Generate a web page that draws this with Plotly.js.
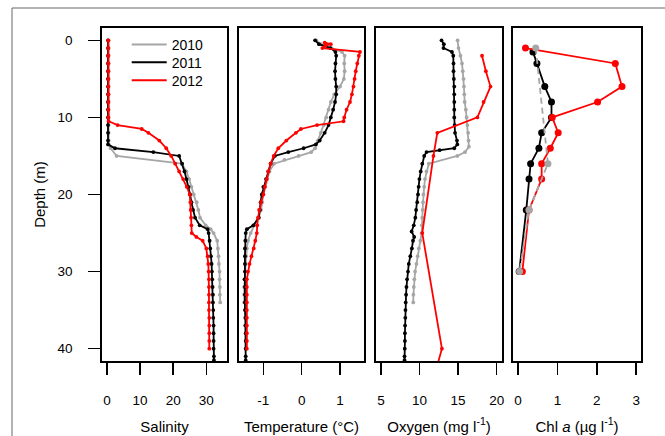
<!DOCTYPE html>
<html>
<head>
<meta charset="utf-8">
<script src="https://cdn.plot.ly/plotly-3.0.1.min.js"></script>
<style>html,body{margin:0;padding:0;background:#fff;}#chart{width:665px;height:436px;}</style>
</head>
<body>
<div id="chart"></div>
<script>
// ---------- DATA ----------
var years = ['2010', '2011', '2012'];
var colors = {'2010': '#a6a6a6', '2011': '#000000', '2012': '#ff0000'};

// Salinity profiles
var salDepth2010 = [0,1,2,3,4,5,6,7,8,9,10,11,12,13,13.5,14,15,16,17,18,19,20,21,22,23,24,24.5,25,26,27,28,29,30,31,32,33,34];
var sal2010 = [0.5,0.5,0.5,0.5,0.5,0.5,0.5,0.5,0.5,0.5,0.5,0.5,0.5,0.5,0.5,1.1,2.9,22.6,24.0,24.8,25.5,26.2,27.1,27.6,28.1,29.8,31.3,32.2,33.3,33.5,33.7,33.8,34.0,34.0,34.1,34.1,34.2];
var salDepth2011 = [0,1,2,3,4,5,6,7,8,9,10,11,12,13,13.5,14,14.5,15,16,17,18,19,20,21,22,23,24,24.5,25,26,27,28,29,30,31,32,33,34,35,36,37,38,39,40,41,41.5];
var sal2011 = [0.3,0.3,0.3,0.3,0.3,0.3,0.3,0.3,0.3,0.3,0.3,0.3,0.3,0.3,0.3,2.4,14.0,21.8,22.7,23.4,24.0,24.6,25.1,25.5,26.0,26.6,28.0,30.4,30.7,31.0,31.2,31.4,31.6,31.7,31.8,31.9,32.0,32.0,32.1,32.1,32.2,32.2,32.2,32.2,32.3,32.3];
var salDepth2012 = [0,1,2,3,4,5,6,7,8,9,10,10.5,11,11.5,12,13,14,15,16,17,18,19,20,21,22,23,24,25,25.5,26,27,28,29,30,31,32,33,34,35,36,37,38,39,40];
var sal2012 = [0.4,0.4,0.4,0.4,0.4,0.4,0.4,0.4,0.4,0.4,0.4,0.5,3.2,10.5,12.5,15.8,17.9,19.4,20.6,21.8,23.0,24.1,25.0,25.2,25.3,25.4,25.5,25.6,27.0,28.9,30.0,30.4,30.6,30.7,30.8,30.8,30.8,30.8,30.8,30.9,30.9,30.9,30.9,30.9];

// Temperature profiles (°C)
var tempDepth2010 = [0,0.5,1,1.5,2,3,4,5,6,7,8,9,10,11,12,13,14,14.5,15,15.5,16,17,18,19,20,21,22,23,24,25,26,27,28,29,30,31,32,33,34];
var temp2010 = [0.38,0.5,0.78,1.05,1.12,1.11,1.12,1.1,1.0,0.85,0.76,0.7,0.64,0.58,0.5,0.42,0.35,0.25,-0.08,-0.45,-0.72,-0.84,-0.9,-0.95,-1.0,-1.03,-1.06,-1.12,-1.24,-1.33,-1.4,-1.43,-1.45,-1.46,-1.47,-1.49,-1.5,-1.5,-1.5];
var tempDepth2011 = [0,0.5,1,1.5,2,3,4,5,6,7,8,9,10,11,12,13,13.5,14,14.5,15,16,17,18,19,20,21,22,23,24,24.5,25,26,27,28,29,30,31,32,33,34,35,36,37,38,39,40,41,41.5];
var temp2011 = [0.35,0.45,0.75,0.88,0.9,0.88,0.87,0.88,0.9,0.9,0.87,0.82,0.76,0.7,0.6,0.47,0.37,0.05,-0.35,-0.7,-0.81,-0.87,-0.93,-1.0,-1.04,-1.07,-1.09,-1.12,-1.26,-1.43,-1.46,-1.47,-1.48,-1.48,-1.48,-1.48,-1.49,-1.48,-1.48,-1.48,-1.48,-1.47,-1.47,-1.46,-1.46,-1.46,-1.46,-1.46];
var tempDepth2012 = [0.3,0.5,0.7,1,1.5,2,3,4,5,6,7,8,9,10,10.5,11,11.5,12,13,14,15,16,17,18,19,20,21,22,23,24,25,26,27,28,29,30,31,32,33,34,35,36,37,38,39,40];
var temp2012 = [0.6,0.76,0.62,0.54,1.52,1.49,1.45,1.41,1.38,1.35,1.31,1.26,1.17,1.11,1.09,0.4,-0.02,-0.15,-0.4,-0.61,-0.73,-0.81,-0.87,-0.91,-0.96,-1.0,-1.06,-1.11,-1.14,-1.16,-1.17,-1.21,-1.25,-1.31,-1.36,-1.4,-1.43,-1.43,-1.43,-1.43,-1.43,-1.43,-1.43,-1.43,-1.43,-1.43];

// Oxygen profiles (mg l-1)
var oxyDepth2010 = [0,1,2,3,4,5,6,7,8,9,10,11,12,13,13.8,14.5,15,16,17,18,19,20,21,22,23,24,25,26,27,28,29,30,31,32,33,34];
var oxy2010 = [14.93,15.05,15.3,15.5,15.6,15.7,15.75,15.8,15.85,16.0,16.1,16.2,16.3,16.35,16.4,15.9,14.9,11.2,10.9,10.7,10.6,10.5,10.45,10.4,10.35,10.3,10.27,10.1,9.9,9.75,9.6,9.42,9.32,9.25,9.2,9.18];
var oxyDepth2011 = [0,0.5,1,1.5,2,3,4,5,6,7,8,9,10,11,12,13,13.5,14,14.25,14.5,15,16,17,18,19,20,21,22,23,24,24.8,25.5,26,27,28,29,30,31,32,33,34,35,36,37,38,39,40,41,41.5];
var oxy2011 = [12.85,13.15,13.1,14.2,14.37,14.4,14.4,14.45,14.5,14.5,14.5,14.5,14.5,14.55,14.6,14.85,14.9,14.5,12.6,10.9,10.6,10.35,10.15,9.98,9.88,9.8,9.7,9.55,9.45,9.25,8.97,9.3,9.15,9.0,8.8,8.6,8.5,8.38,8.3,8.25,8.2,8.17,8.15,8.12,8.1,8.1,8.08,8.05,8.05];
var oxyDepth2012 = [2,4,6,8,10,12,15,25,40,42.5];
var oxy2012 = [18.1,18.6,19.2,18.3,17.5,12.3,11.8,10.35,12.9,12.2];

// Chlorophyll a (µg l-1)
var chlDepth2010 = [1,16,22,30];
var chl2010 = [0.45,0.76,0.28,0.04];
var chlDepth2011 = [1.5,3,6,8,10,12,14,16,18,22,30];
var chl2011 = [0.38,0.48,0.68,0.85,0.85,0.6,0.53,0.32,0.28,0.21,0.03];
var chlDepth2012 = [1,3,6,8,10,12,14,16,18,22,30];
var chl2012 = [0.19,2.47,2.64,2.02,0.87,1.02,0.82,0.6,0.6,0.28,0.11];

// Axis tick labels
var depthTicks = [0,10,20,30,40];
var salTicks = [0,10,20,30];
var tempTicks = [-1,0,1];
var tempTickText = ['-1','0','1'];
var oxyTicks = [5,10,15,20];
var chlTicks = [0,1,2,3];

// ---------- TRACES ----------
function prof(x, y, yr, xa, ya) {
  return {x: x, y: y, type: 'scatter', mode: 'lines+markers', xaxis: xa, yaxis: ya,
    line: {color: colors[yr], width: 1.8}, marker: {color: colors[yr], size: 3.8},
    showlegend: false, hoverinfo: 'skip'};
}
var data = [];
data.push(prof(sal2010, salDepth2010, '2010', 'x', 'y'));
data.push(prof(sal2011, salDepth2011, '2011', 'x', 'y'));
data.push(prof(sal2012, salDepth2012, '2012', 'x', 'y'));
data.push(prof(temp2010, tempDepth2010, '2010', 'x2', 'y2'));
data.push(prof(temp2011, tempDepth2011, '2011', 'x2', 'y2'));
data.push(prof(temp2012, tempDepth2012, '2012', 'x2', 'y2'));
data.push(prof(oxy2010, oxyDepth2010, '2010', 'x3', 'y3'));
data.push(prof(oxy2011, oxyDepth2011, '2011', 'x3', 'y3'));
data.push(prof(oxy2012, oxyDepth2012, '2012', 'x3', 'y3'));
function chl(x, y, yr, dash) {
  return {x: x, y: y, type: 'scatter', mode: 'lines+markers', xaxis: 'x4', yaxis: 'y4',
    line: {color: colors[yr], width: 1.8, dash: dash}, marker: {color: colors[yr], size: 7},
    showlegend: false, hoverinfo: 'skip'};
}
data.push(chl(chl2011, chlDepth2011, '2011', 'solid'));
data.push(chl(chl2012, chlDepth2012, '2012', 'solid'));
data.push(chl(chl2010, chlDepth2010, '2010', '6px,4px'));
// legend entries (one legend box per year so each row can be placed like the reference)
var legendIds = ['legend', 'legend2', 'legend3'];
years.forEach(function (yr, i) {
  data.push({x: [null], y: [null], type: 'scatter', mode: 'lines', name: yr, xaxis: 'x', yaxis: 'y',
    legend: legendIds[i], line: {color: colors[yr], width: 2}, showlegend: true});
});

// ---------- LAYOUT ----------
var W = 665, H = 436, L = 102, R = 24, T = 28, B = 75;
var pw = W - L - R, ph = H - T - B;
function dom(a, b) { return [(a - L) / pw, (b - L) / pw]; }
var axLine = {showline: true, mirror: true, linecolor: '#000', linewidth: 1.8, showgrid: false, zeroline: false};
function xax(d, range, tv, tt, title, anchor) {
  var o = Object.assign({}, axLine, {domain: d, range: range, tickvals: tv, ticks: 'outside', ticklen: 12,
    tickwidth: 1.6, tickcolor: '#000', ticklabelstandoff: 14, anchor: anchor,
    title: {text: title, font: {size: 15}, standoff: 14}, fixedrange: true});
  if (tt) o.ticktext = tt;
  return o;
}
function yax(anchor, first) {
  var o = Object.assign({}, axLine, {domain: [0, 1], anchor: anchor, range: [41.6, -1.6], fixedrange: true});
  if (first) {
    Object.assign(o, {tickvals: depthTicks, ticks: 'outside', ticklen: 12, tickwidth: 1.6, tickcolor: '#000',
      ticklabelstandoff: 13, title: {text: 'Depth (m)', font: {size: 15}, standoff: 8}});
  } else {
    Object.assign(o, {matches: 'y', showticklabels: false, ticks: ''});
  }
  return o;
}
function leg(centerY) {
  return {x: (126.7 - L) / pw, y: 1 - (centerY - 16 - T) / ph, xanchor: 'left', yanchor: 'top',
    bgcolor: 'rgba(0,0,0,0)', font: {size: 14}, itemwidth: 35};
}
var layout = {
  width: W, height: H,
  margin: {l: L, r: R, t: T, b: B},
  paper_bgcolor: '#fff', plot_bgcolor: '#fff',
  font: {family: 'Liberation Sans, Arial, sans-serif', size: 13.5, color: '#000'},
  showlegend: true,
  legend: leg(45),
  legend2: leg(62.7),
  legend3: leg(80.7),
  xaxis: xax(dom(102, 227), [-1.51, 36.25], salTicks, null, 'Salinity', 'y'),
  xaxis2: xax(dom(239, 364), [-1.635, 1.625], tempTicks, tempTickText, 'Temperature (°C)', 'y2'),
  xaxis3: xax(dom(376, 502), [4.35, 20.69], oxyTicks, null, 'Oxygen (mg l<sup>-1</sup>)', 'y3'),
  xaxis4: xax(dom(513, 641), [-0.127, 3.122], chlTicks, null, 'Chl <i>a</i> (µg l<sup>-1</sup>)', 'y4'),
  yaxis: yax('x', true),
  yaxis2: yax('x2', false),
  yaxis3: yax('x3', false),
  yaxis4: yax('x4', false),
  shapes: [
    {type: 'line', xref: 'paper', yref: 'paper', x0: (12 - L) / pw, x1: (W - L) / pw, y0: 1 + (T - 8) / ph, y1: 1 + (T - 8) / ph,
      line: {color: '#666', width: 1}},
    {type: 'line', xref: 'paper', yref: 'paper', x0: (12 - L) / pw, x1: (12 - L) / pw, y0: 1 + (T - 8) / ph, y1: -(B + 2) / ph,
      line: {color: '#666', width: 1}}
  ]
};
Plotly.newPlot('chart', data, layout, {displayModeBar: false, staticPlot: true});
</script>
</body>
</html>
